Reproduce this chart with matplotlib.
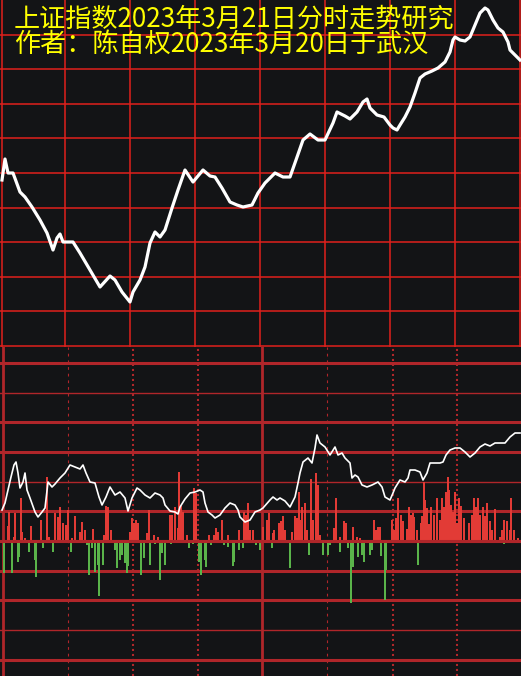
import matplotlib

matplotlib.use("Agg")
import matplotlib.pyplot as plt

plt.rcParams["font.family"] = ["Noto Sans CJK SC", "DejaVu Sans"]

TITLE1 = "上证指数2023年3月21日分时走势研究"
TITLE2 = "作者：陈自权2023年3月20日于武汉"

# upper panel: smoothed study curve (t along the session, level in panel units)
top_t = [2, 5, 8, 13, 20, 25, 32, 40, 47, 53, 57, 60, 63, 73, 80, 90, 100, 110, 115, 122,
         130, 133, 140, 145, 150, 155, 160, 165, 172, 178, 185, 193, 203, 210, 215, 222, 230,
         237, 243, 252, 258, 265, 275, 283, 290, 296, 303, 310, 318, 325, 333, 337, 345, 350,
         357, 363, 367, 370, 377, 384, 390, 393, 397, 400, 405, 410, 415, 420, 425, 432, 438,
         445, 450, 453, 455, 460, 465, 470, 475, 480, 485, 488, 493, 498, 503, 508, 510, 515, 520]
top_v = [166, 187, 173, 173, 154, 149, 139, 126, 113, 96, 108, 112, 104, 104, 93, 76, 59, 70, 66, 54,
         44, 54, 66, 79, 103, 114, 109, 116, 138, 156, 176, 164, 176, 170, 169, 158, 144,
         141, 139, 141, 153, 163, 173, 169, 169, 186, 206, 212, 206, 206, 223, 234, 230, 227,
         234, 244, 247, 238, 231, 229, 221, 218, 216, 221, 229, 239, 253, 268, 272, 275, 278,
         284, 294, 306, 309, 306, 305, 309, 321, 333, 338, 336, 326, 318, 314, 304, 296, 291, 286]

# lower panel: intraday line
low_t = [2, 5, 8, 11, 14, 16, 18, 20, 23, 25, 27, 30, 35, 38, 42, 45, 48, 52, 55, 60, 65, 70, 75,
         80, 83, 86, 90, 95, 99, 102, 106, 110, 115, 120, 125, 128, 132, 137, 140, 145, 150, 155,
         160, 163, 165, 170, 175, 178, 180, 185, 190, 195, 200, 203, 205, 208, 212, 215, 220, 225,
         230, 235, 238, 240, 245, 250, 255, 260, 263, 270, 273, 277, 280, 285, 290, 295, 298, 300,
         303, 308, 312, 315, 317, 320, 325, 330, 335, 338, 342, 345, 350, 352, 355, 358, 362, 367,
         372, 378, 382, 385, 390, 393, 395, 400, 405, 408, 410, 415, 420, 423, 427, 430, 435, 440,
         443, 446, 450, 455, 460, 465, 470, 475, 480, 485, 490, 495, 500, 505, 510, 515, 520]
low_v = [31, 38, 51, 64, 76, 79, 68, 53, 59, 68, 51, 43, 29, 24, 29, 33, 59, 54, 57, 63, 68, 76, 74,
         72, 76, 68, 59, 58, 44, 36, 44, 54, 46, 49, 43, 30, 43, 53, 51, 46, 43, 48,
         46, 43, 36, 30, 29, 27, 34, 42, 48, 49, 51, 49, 38, 29, 26, 23, 26, 33,
         38, 36, 31, 24, 19, 21, 29, 31, 33, 41, 44, 41, 43, 40, 34, 44, 58, 68,
         79, 83, 78, 93, 106, 98, 94, 86, 94, 86, 88, 83, 78, 63, 66, 64, 56, 54,
         56, 59, 54, 44, 41, 48, 53, 61, 59, 63, 71, 71, 69, 61, 68, 78, 78, 78,
         79, 86, 91, 93, 93, 89, 84, 88, 94, 97, 95, 98, 98, 98, 104, 108, 108]

# lower panel: red (up) and green (down) bars
red_t = [8, 9, 14, 15, 21, 22, 25, 31, 41, 47, 49, 55, 58, 60, 63, 66, 68, 72, 75, 80, 82, 85, 93,
         104, 106, 108, 111, 130, 132, 134, 136, 138, 147, 149, 154, 158, 170, 172, 175, 178, 179,
         181, 183, 187, 194, 196, 209, 214, 216, 218, 222, 228, 239, 244, 246, 248, 250, 253, 263,
         267, 269, 273, 274, 279, 281, 283, 285, 292, 295, 297, 299, 300, 302, 305, 307, 311, 313,
         316, 318, 320, 334, 336, 340, 344, 346, 353, 357, 360, 374, 376, 378, 380, 392, 394, 396,
         398, 401, 403, 407, 409, 411, 413, 414, 417, 421, 422, 424, 425, 427, 429, 431, 434, 437,
         440, 442, 444, 446, 448, 449, 451, 453, 455, 457, 459, 461, 464, 469, 472, 474, 476, 478,
         480, 483, 485, 487, 490, 492, 495, 500, 502, 504, 507, 510, 511, 514, 518]
red_v = [15, 29, 4, 28, 43, 9, 3, 15, 21, 64, 4, 28, 24, 34, 18, 16, 31, 3, 25, 9, 19, 11, 12,
         6, 35, 34, 11, 9, 23, 18, 21, 18, 8, 31, 6, 4, 26, 26, 34, 13, 69,
         35, 29, 6, 53, 48, 6, 6, 13, 9, 21, 6, 11, 29, 26, 38, 11, 11, 14,
         21, 28, 8, 11, 18, 20, 25, 11, 9, 25, 23, 49, 21, 34, 38, 11, 62, 21,
         68, 56, 6, 13, 43, 4, 20, 18, 14, 4, 3, 21, 11, 14, 14, 21, 11, 23,
         43, 26, 20, 12, 34, 26, 28, 24, 11, 18, 25, 59, 41, 33, 17, 34, 26, 43,
         21, 43, 34, 49, 64, 51, 36, 29, 49, 18, 43, 35, 23, 18, 26, 43, 34, 43,
         26, 34, 25, 38, 20, 11, 32, 4, 11, 21, 20, 11, 43, 11, 3]
green_t = [4, 12, 18, 19, 26, 29, 35, 36, 43, 53, 71, 87, 89, 92, 95, 98, 99, 103, 115, 117, 120,
           122, 125, 127, 128, 141, 144, 150, 155, 160, 162, 165, 171, 189, 193, 199, 201, 205, 206,
           211, 224, 228, 233, 234, 239, 243, 256, 260, 272, 290, 309, 323, 328, 330, 340, 348,
           351, 353, 358, 362, 364, 370, 372, 381, 385, 386, 404, 418, 504]
green_v = [-32, -32, -21, -16, -2, -11, -19, -36, -7, -11, -11, -4, -34, -7, -31, -24, -55, -24, -9, -27, -19,
           -14, -22, -32, -25, -34, -17, -24, -3, -39, -12, -24, -3, -7, -3, -21, -34, -19, -26,
           -4, -4, -6, -25, -21, -9, -7, -4, -9, -7, -27, -14, -14, -14, -4, -11, -7,
           -62, -26, -16, -14, -21, -14, -9, -15, -59, -29, -2, -24, -3]

W, H = 521, 676
TOP_H = 347
fig = plt.figure(figsize=(W / 100, H / 100), dpi=100)
fig.patch.set_facecolor("#131416")

ax = fig.add_axes([0, (H - TOP_H) / H, 1, TOP_H / H])
ax.set_facecolor("#211b19")
ax.set_xlim(0, W)
ax.set_ylim(-1, 346)
for x in [1.5, 65, 130, 195, 260, 325, 390, 455, 520]:
    ax.axvline(x, color="#e0201c", lw=1.1, zorder=1)
for k in range(10):
    ax.axhline(k * 34.6, color="#e0201c", lw=1.1, zorder=1)
ax.plot(top_t, top_v, color="white", lw=2.3, solid_joinstyle="round", zorder=3)
ax.axis("off")

bx = fig.add_axes([0, 0, 1, (H - TOP_H) / H])
bx.set_facecolor("#131416")
bx.set_xlim(0, W)
bx.set_ylim(-135, 194)
gc = "#b0262a"
for k in range(-4, 7):
    lw = 1.0 if k in (5, 2, -3) else 2.2
    bx.axhline(k * 29.7, color=gc, lw=lw, zorder=1)
for x in [3, 262]:
    bx.axvline(x, color=gc, lw=2.0, zorder=1)
for x in [68, 327]:
    bx.axvline(x, color=gc, lw=0.8, dashes=(2.5, 3.5), zorder=1)
for x in [133, 198, 393, 457]:
    bx.axvline(x, color=gc, lw=1.5, dashes=(1.0, 1.4), zorder=1)
bx.bar(red_t, red_v, width=2.3, color="#e23b36", zorder=2)
bx.bar(green_t, green_v, width=2.3, color="#5ab44a", zorder=2)
bx.axhline(0, color=gc, lw=2.2, zorder=2.5)
bx.plot(low_t, low_v, color="white", lw=1.2, zorder=3)
bx.axis("off")

fig.text(14 / W, 1 - 27 / H, TITLE1, color="#ffff00", fontsize=18.8, va="baseline", ha="left")
fig.text(14 / W, 1 - 52 / H, TITLE2, color="#ffff00", fontsize=18.8, va="baseline", ha="left")

fig.savefig("out.png", dpi=100, facecolor=fig.get_facecolor())
